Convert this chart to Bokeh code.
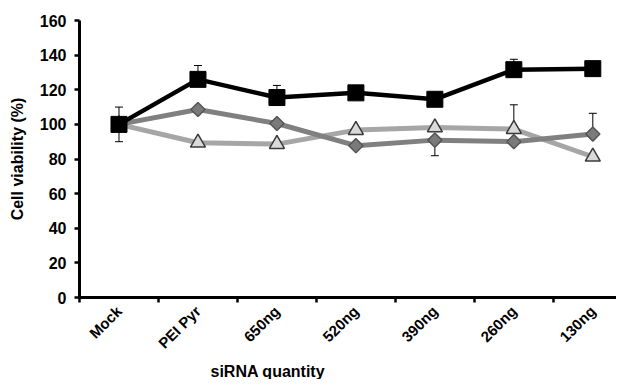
import math
from bokeh.plotting import figure
from bokeh.models import Range1d, FixedTicker, Title, Whisker, ColumnDataSource, TeeHead
from bokeh.embed import file_html
from bokeh.resources import INLINE

categories = ["Mock", "PEI Pyr", "650ng", "520ng", "390ng", "260ng", "130ng"]
series_square = [100, 126, 115.5, 118.2, 114.5, 131.6, 132.2]
series_diamond = [100, 108.6, 100.5, 87.7, 90.9, 90.0, 94.4]
series_triangle = [100, 89.4, 88.6, 96.7, 98.2, 97.3, 81.3]
err_square_up = [0, 8, 7, 0, 0, 6, 0]
err_diamond_up = [0, 0, 0, 0, 0, 0, 12]
err_diamond_down = [0, 0, 0, 0, 9, 0, 0]
err_triangle_up = [10, 0, 0, 0, 0, 14, 0]
err_triangle_down = [10, 0, 0, 0, 0, 0, 0]
y_ticks = [0, 20, 40, 60, 80, 100, 120, 140, 160]

FONT = "Liberation Sans"
xs = [i + 0.5 for i in range(len(categories))]

p = figure(width=616, height=379, x_range=Range1d(0, 6.8), y_range=Range1d(0, 160),
           output_backend="svg", toolbar_location=None,
           min_border_left=79, min_border_right=0, min_border_top=20, min_border_bottom=81)
p.outline_line_color = None
p.xgrid.visible = False
p.ygrid.visible = False
p.background_fill_color = "white"

def add_err(vals, errs, up=True):
    bx, lo, hi = [], [], []
    for x, v, e in zip(xs, vals, errs):
        if e:
            bx.append(x)
            if up:
                lo.append(v); hi.append(v + e)
            else:
                lo.append(v - e); hi.append(v)
    src = ColumnDataSource(dict(base=bx, lower=lo, upper=hi))
    head = TeeHead(size=8, line_color="black", line_width=1)
    w = Whisker(base="base", lower="lower", upper="upper", source=src,
                line_color="black", line_width=1, level="underlay",
                upper_head=head if up else None, lower_head=None if up else head)
    p.add_layout(w)

add_err(series_square, err_square_up, True)
add_err(series_diamond, err_diamond_up, True)
add_err(series_diamond, err_diamond_down, False)
add_err(series_triangle, err_triangle_up, True)
add_err(series_triangle, err_triangle_down, False)

p.line(xs, series_triangle, line_color="#a6a6a6", line_width=5)
p.line(xs, series_diamond, line_color="#808080", line_width=5)
p.line(xs, series_square, line_color="black", line_width=4.5)

p.scatter(xs, series_triangle, marker="triangle", size=15, fill_color="#d9d9d9",
          line_color="#3a3a3a", line_width=1.5)
p.scatter(xs, series_diamond, marker="square", angle=math.pi / 4, size=10,
          fill_color="#7a7a7a", line_color="#555555", line_width=1.5)
p.scatter(xs, series_square, marker="square", size=16, fill_color="black", line_color="black")

xa = p.xaxis[0]
xa.ticker = FixedTicker(ticks=xs, minor_ticks=list(range(len(categories) + 1)))
xa.major_label_overrides = {x: c for x, c in zip(xs, categories)}
xa.major_label_orientation = math.pi / 4
xa.major_tick_out = 0
xa.major_tick_in = 0
xa.minor_tick_out = 5
xa.minor_tick_in = 0
xa.minor_tick_line_width = 2.5
xa.minor_tick_line_color = "black"
xa.axis_line_width = 3
xa.axis_line_color = "black"
xa.major_label_text_font = FONT
xa.major_label_text_font_style = "bold"
xa.major_label_text_font_size = "15px"
xa.major_label_text_color = "black"
xa.major_label_standoff = 6

ya = p.yaxis[0]
ya.ticker = FixedTicker(ticks=y_ticks)
ya.minor_tick_line_color = None
ya.major_tick_out = 5
ya.major_tick_in = 0
ya.major_tick_line_width = 2.5
ya.axis_line_width = 3
ya.axis_line_color = "black"
ya.major_label_text_font = FONT
ya.major_label_text_font_style = "bold"
ya.major_label_text_font_size = "16px"
ya.major_label_text_color = "black"
ya.major_label_standoff = 8
ya.axis_label = "Cell viability (%)"
ya.axis_label_text_font = FONT
ya.axis_label_text_font_style = "bold"
ya.axis_label_text_font_size = "16px"
ya.axis_label_text_color = "black"
ya.axis_label_standoff = 11

xtitle = Title(text="siRNA quantity", align="left", offset=131, standoff=0, text_font=FONT,
               text_font_style="bold", text_font_size="16px", text_color="black")
p.add_layout(xtitle, "below")

open("out.html", "w").write(file_html(p, INLINE))
